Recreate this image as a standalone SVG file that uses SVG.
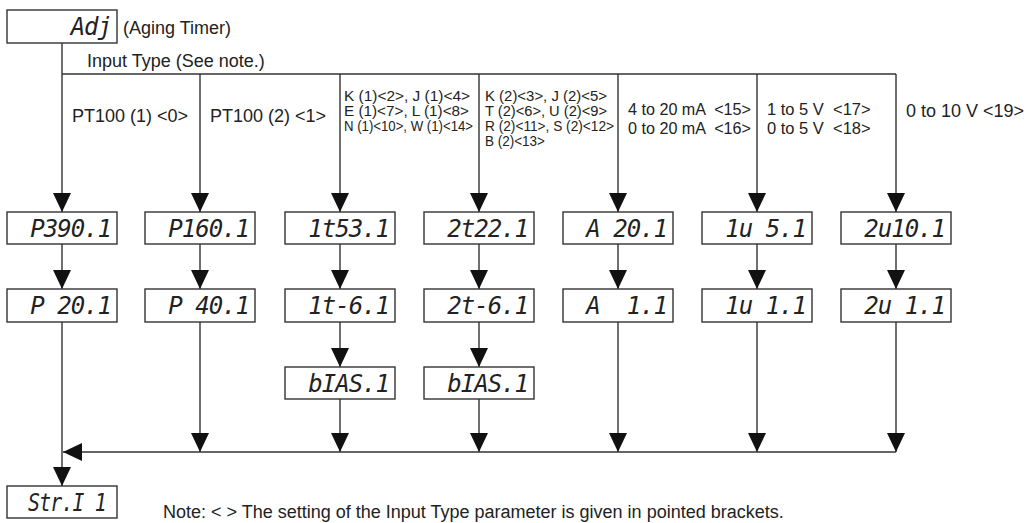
<svg xmlns="http://www.w3.org/2000/svg" width="1026" height="523" viewBox="0 0 1026 523">
<style>
.bg{fill:#fff}
.box{fill:#fff;stroke:#333;stroke-width:1.4}
.seg{font-family:"DejaVu Sans Mono",monospace;font-style:oblique;font-size:24px;letter-spacing:-1px;fill:#222;text-anchor:end}
.lbl{font-family:"Liberation Sans",Arial,sans-serif;font-size:18px;fill:#222}
.sm{font-family:"Liberation Sans",Arial,sans-serif;font-size:15.5px;fill:#222}
.md{font-family:"Liberation Sans",Arial,sans-serif;font-size:16.5px;fill:#222}
.ln{fill:none;stroke:#333;stroke-width:1.4}
</style>
<defs>
<marker id="arr" viewBox="0 0 19 18" markerWidth="19" markerHeight="18" refX="19" refY="9" orient="auto" markerUnits="userSpaceOnUse">
<path d="M0,0 L19,9 L0,18 Z" fill="#111"/>
</marker>
</defs>
<rect class="bg" width="1026" height="523"/>

<g id="connectors">
<path class="ln" d="M62,43 V212" marker-end="url(#arr)"/>
<path class="ln" d="M62,74 H896"/>
<path class="ln" d="M200,74 V212" marker-end="url(#arr)"/>
<path class="ln" d="M340,74 V212" marker-end="url(#arr)"/>
<path class="ln" d="M479,74 V212" marker-end="url(#arr)"/>
<path class="ln" d="M618,74 V212" marker-end="url(#arr)"/>
<path class="ln" d="M757,74 V212" marker-end="url(#arr)"/>
<path class="ln" d="M896,74 V212" marker-end="url(#arr)"/>
<path class="ln" d="M62,244 V289" marker-end="url(#arr)"/>
<path class="ln" d="M200,244 V289" marker-end="url(#arr)"/>
<path class="ln" d="M340,244 V289" marker-end="url(#arr)"/>
<path class="ln" d="M479,244 V289" marker-end="url(#arr)"/>
<path class="ln" d="M618,244 V289" marker-end="url(#arr)"/>
<path class="ln" d="M757,244 V289" marker-end="url(#arr)"/>
<path class="ln" d="M896,244 V289" marker-end="url(#arr)"/>
<path class="ln" d="M340,322 V367" marker-end="url(#arr)"/>
<path class="ln" d="M479,322 V367" marker-end="url(#arr)"/>
<path class="ln" d="M200,322 V452" marker-end="url(#arr)"/>
<path class="ln" d="M340,399 V452" marker-end="url(#arr)"/>
<path class="ln" d="M479,399 V452" marker-end="url(#arr)"/>
<path class="ln" d="M618,322 V452" marker-end="url(#arr)"/>
<path class="ln" d="M757,322 V452" marker-end="url(#arr)"/>
<path class="ln" d="M896,322 V452" marker-end="url(#arr)"/>
<path class="ln" d="M896,452 H63" marker-end="url(#arr)"/>
<path class="ln" d="M62,322 V486" marker-end="url(#arr)"/>
</g>

<g id="labels">
<text class="lbl" x="123" y="34">(Aging Timer)</text>
<text class="lbl" x="87" y="67">Input Type (See note.)</text>
<text class="lbl" x="72" y="122">PT100 (1) &lt;0&gt;</text>
<text class="lbl" x="210" y="122">PT100 (2) &lt;1&gt;</text>
<text class="sm" x="344" y="101" textLength="126" lengthAdjust="spacingAndGlyphs">K (1)&lt;2&gt;, J (1)&lt;4&gt;</text>
<text class="sm" x="344" y="116" textLength="125" lengthAdjust="spacingAndGlyphs">E (1)&lt;7&gt;, L (1)&lt;8&gt;</text>
<text class="sm" x="344" y="131" textLength="129" lengthAdjust="spacingAndGlyphs">N (1)&lt;10&gt;, W (1)&lt;14&gt;</text>
<text class="sm" x="485" y="101" textLength="122" lengthAdjust="spacingAndGlyphs">K (2)&lt;3&gt;, J (2)&lt;5&gt;</text>
<text class="sm" x="485" y="116" textLength="122" lengthAdjust="spacingAndGlyphs">T (2)&lt;6&gt;, U (2)&lt;9&gt;</text>
<text class="sm" x="485" y="131" textLength="129" lengthAdjust="spacingAndGlyphs">R (2)&lt;11&gt;, S (2)&lt;12&gt;</text>
<text class="sm" x="485" y="146" textLength="60" lengthAdjust="spacingAndGlyphs">B (2)&lt;13&gt;</text>
<text class="md" x="628" y="115" textLength="123" lengthAdjust="spacingAndGlyphs" xml:space="preserve">4 to 20 mA  &lt;15&gt;</text>
<text class="md" x="628" y="134" textLength="123" lengthAdjust="spacingAndGlyphs" xml:space="preserve">0 to 20 mA  &lt;16&gt;</text>
<text class="md" x="767" y="115" xml:space="preserve">1 to 5 V  &lt;17&gt;</text>
<text class="md" x="767" y="134" xml:space="preserve">0 to 5 V  &lt;18&gt;</text>
<text class="lbl" x="906" y="117">0 to 10 V &lt;19&gt;</text>
<text class="lbl" x="163" y="518">Note: &lt; &gt; The setting of the Input Type parameter is given in pointed brackets.</text>
</g>

<g id="n-adj"><rect class="box" x="7" y="10" width="110" height="33"/><text class="seg" x="111" y="35">Adj</text></g>

<g id="n-p390"><rect class="box" x="7" y="212" width="110" height="32"/><text class="seg" x="111" y="237">P390.1</text></g>
<g id="n-p160"><rect class="box" x="145" y="212" width="110" height="32"/><text class="seg" x="249" y="237">P160.1</text></g>
<g id="n-1t53"><rect class="box" x="285" y="212" width="110" height="32"/><text class="seg" x="389" y="237">1t53.1</text></g>
<g id="n-2t22"><rect class="box" x="424" y="212" width="110" height="32"/><text class="seg" x="528" y="237">2t22.1</text></g>
<g id="n-a20"><rect class="box" x="563" y="212" width="110" height="32"/><text class="seg" x="667" y="237" xml:space="preserve">A 20.1</text></g>
<g id="n-1u5"><rect class="box" x="702" y="212" width="110" height="32"/><text class="seg" x="806" y="237" xml:space="preserve">1u 5.1</text></g>
<g id="n-2u10"><rect class="box" x="841" y="212" width="110" height="32"/><text class="seg" x="945" y="237">2u10.1</text></g>

<g id="n-p20"><rect class="box" x="7" y="289" width="110" height="33"/><text class="seg" x="111" y="314" xml:space="preserve">P 20.1</text></g>
<g id="n-p40"><rect class="box" x="145" y="289" width="110" height="33"/><text class="seg" x="249" y="314" xml:space="preserve">P 40.1</text></g>
<g id="n-1tm6"><rect class="box" x="285" y="289" width="110" height="33"/><text class="seg" x="389" y="314">1t-6.1</text></g>
<g id="n-2tm6"><rect class="box" x="424" y="289" width="110" height="33"/><text class="seg" x="528" y="314">2t-6.1</text></g>
<g id="n-a1"><rect class="box" x="563" y="289" width="110" height="33"/><text class="seg" x="667" y="314" xml:space="preserve">A  1.1</text></g>
<g id="n-1u1"><rect class="box" x="702" y="289" width="110" height="33"/><text class="seg" x="806" y="314" xml:space="preserve">1u 1.1</text></g>
<g id="n-2u1"><rect class="box" x="841" y="289" width="110" height="33"/><text class="seg" x="945" y="314" xml:space="preserve">2u 1.1</text></g>

<g id="n-bias1"><rect class="box" x="285" y="367" width="110" height="32"/><text class="seg" x="389" y="392">bIAS.1</text></g>
<g id="n-bias2"><rect class="box" x="424" y="367" width="110" height="32"/><text class="seg" x="528" y="392">bIAS.1</text></g>

<g id="n-str"><rect class="box" x="7" y="486" width="110" height="32"/><text class="seg" x="106" y="511" textLength="78" lengthAdjust="spacingAndGlyphs" xml:space="preserve">Str.I 1</text></g>
</svg>
